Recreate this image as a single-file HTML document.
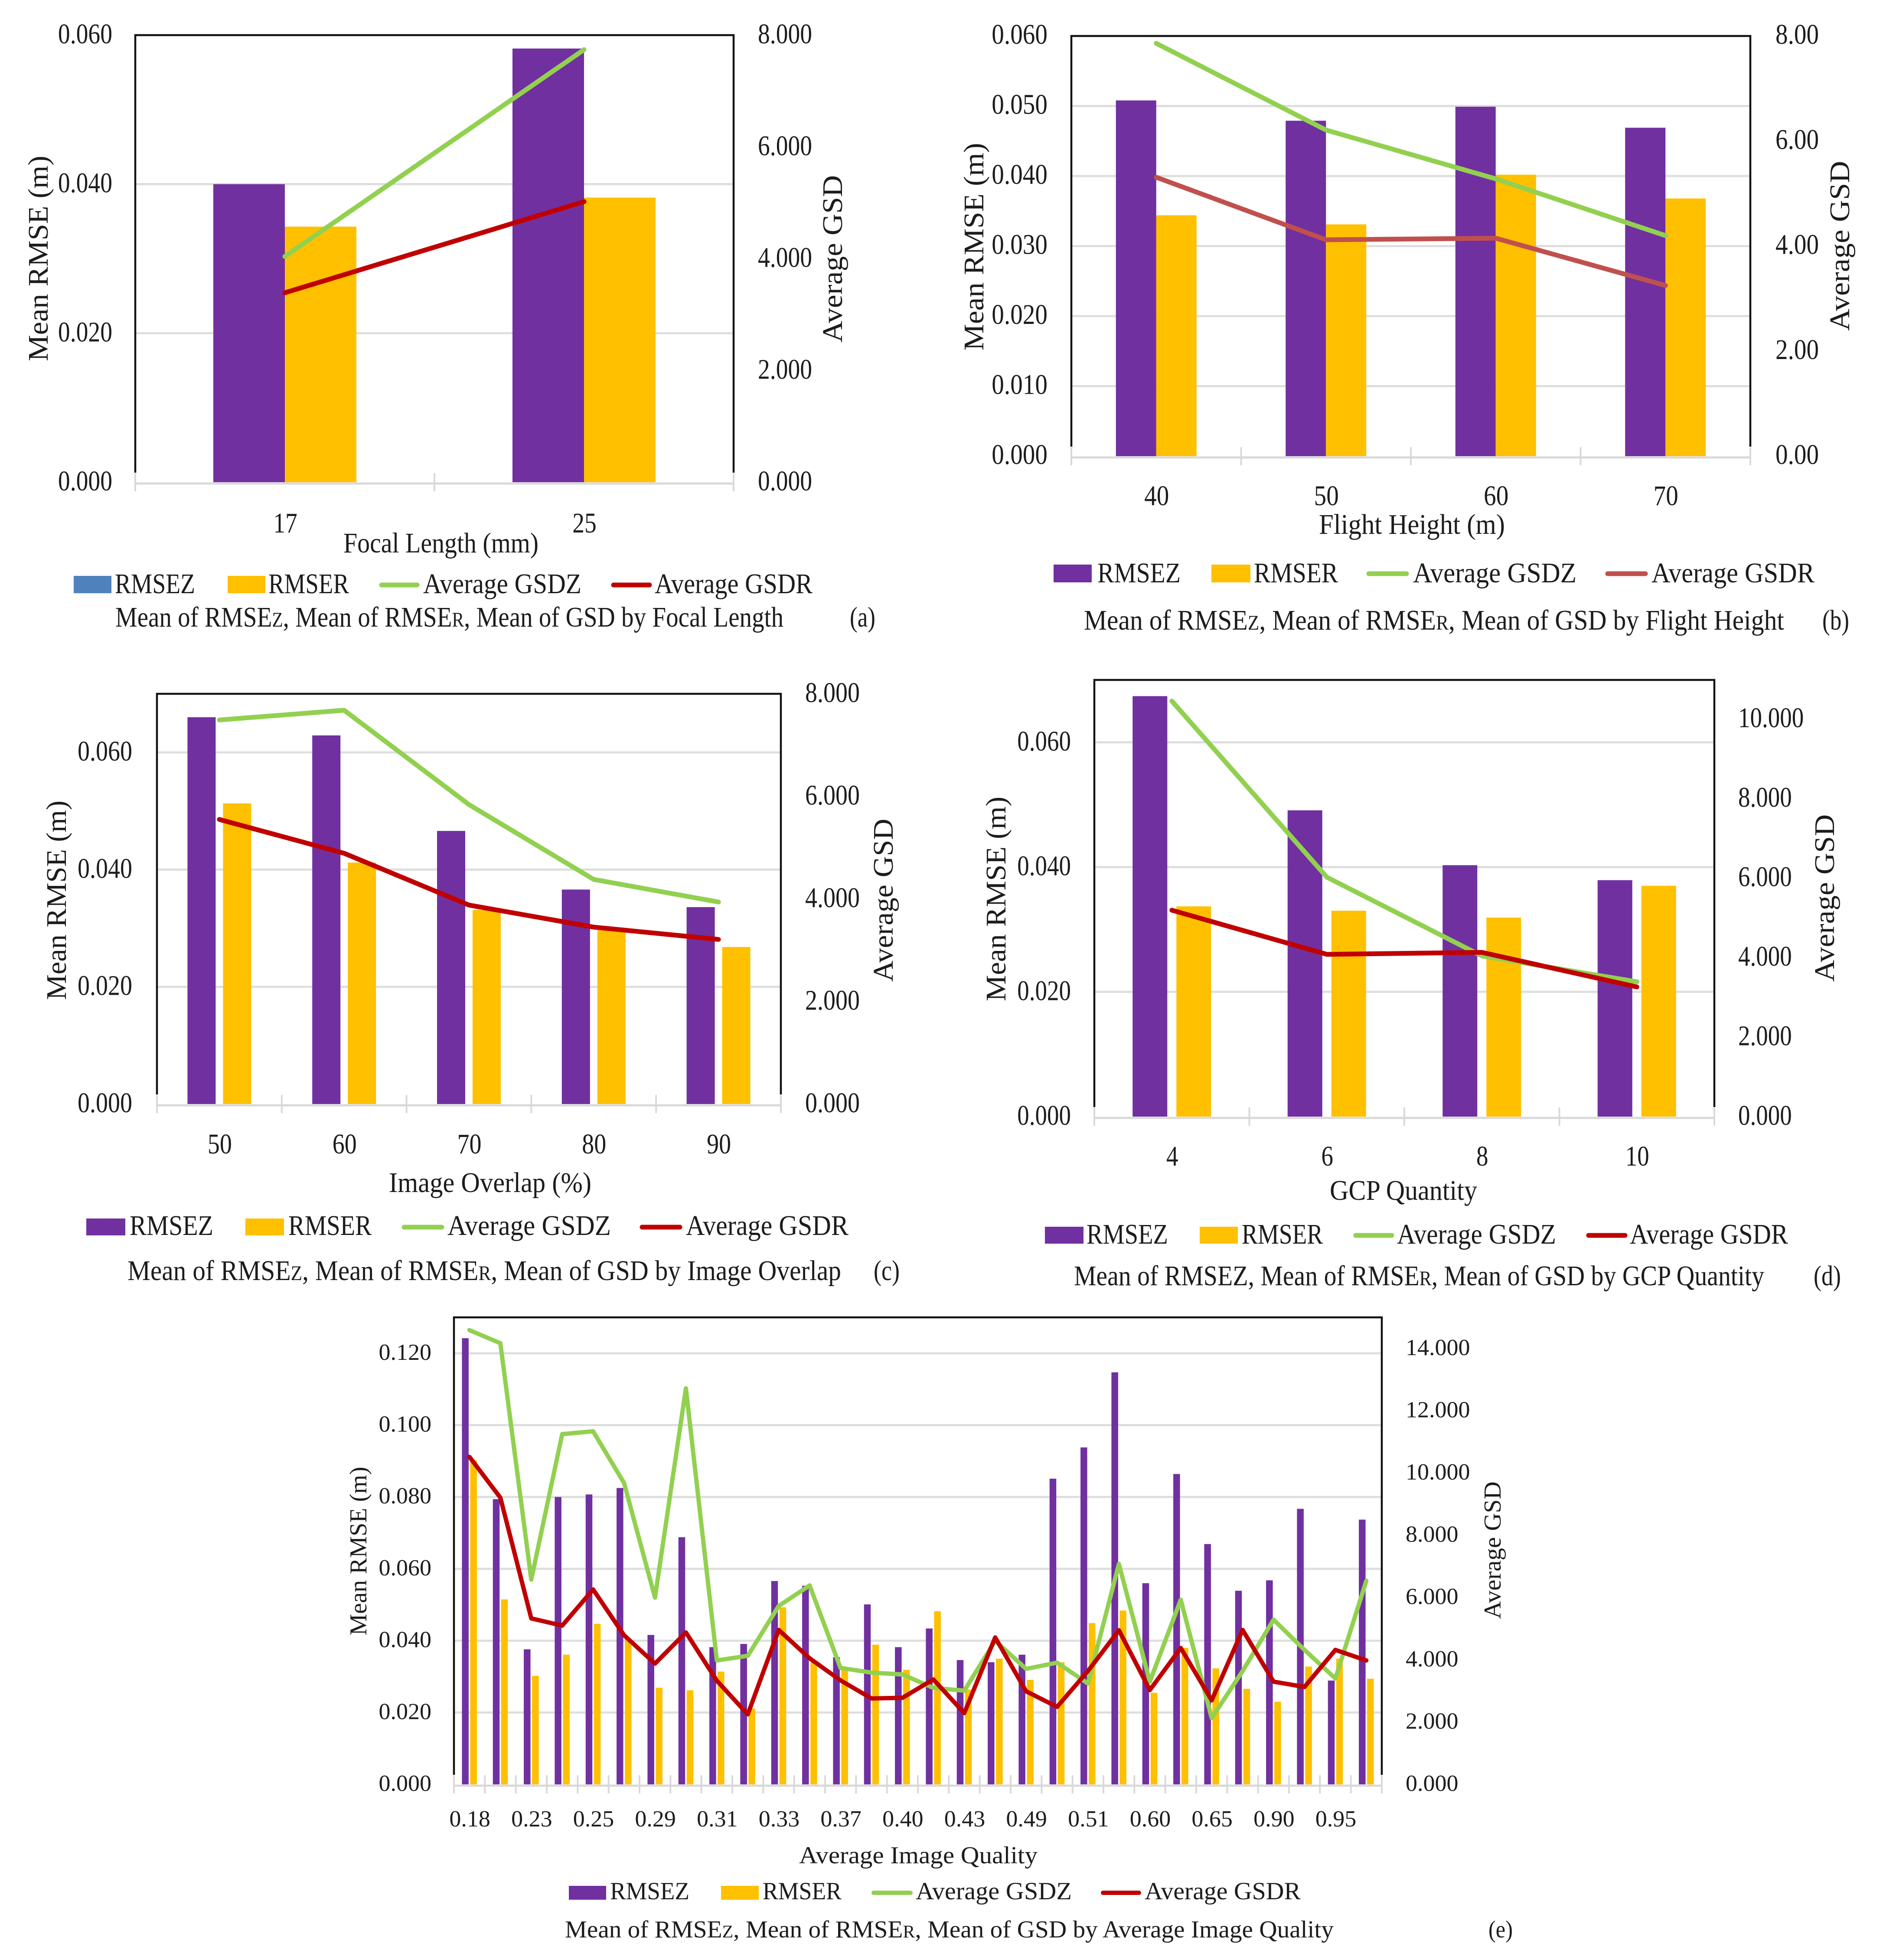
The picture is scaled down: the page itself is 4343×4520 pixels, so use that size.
<!DOCTYPE html>
<html lang="en">
<head>
<meta charset="utf-8">
<title>Mean RMSE and GSD charts</title>
<style>
html,body{margin:0;padding:0;background:#fff;}
svg{display:block;}
text{font-family:"Liberation Serif",serif;fill:#1c1c1c;}
.leg{font-size:66px;}
.cap{font-size:66px;}
.axt{font-size:66px;}
.e .leg{font-size:57px;}
.e .cap{font-size:56px;}
.e .axt{font-size:56px;}
</style>
</head>
<body>
<svg id="figure" xmlns="http://www.w3.org/2000/svg" width="4343" height="4520" viewBox="0 0 4343 4520">
<rect width="4343" height="4520" fill="#fff"/>

<g id="panel-a">
<g id="marks-a"></g>
<text class="axt" transform="translate(110 596) rotate(-90)" text-anchor="middle" textLength="474" lengthAdjust="spacingAndGlyphs">Mean RMSE (m)</text>
<text class="axt" transform="translate(1942 597) rotate(-90)" text-anchor="middle" textLength="386" lengthAdjust="spacingAndGlyphs">Average GSD</text>
<text class="axt" x="792" y="1274" textLength="450" lengthAdjust="spacingAndGlyphs">Focal Length (mm)</text>
<rect x="170" y="1328" width="87" height="40" fill="#4f81bd"/>
<text class="leg" x="265" y="1368" textLength="185" lengthAdjust="spacingAndGlyphs">RMSEZ</text>
<rect x="525" y="1328" width="87" height="40" fill="#ffc000"/>
<text class="leg" x="619" y="1368" textLength="186" lengthAdjust="spacingAndGlyphs">RMSER</text>
<line x1="880" x2="962" y1="1349" y2="1349" stroke="#92d050" stroke-width="11" stroke-linecap="round"/>
<text class="leg" x="976" y="1368" textLength="365" lengthAdjust="spacingAndGlyphs">Average GSDZ</text>
<line x1="1415" x2="1498" y1="1349" y2="1349" stroke="#c00000" stroke-width="11" stroke-linecap="round"/>
<text class="leg" x="1510" y="1368" textLength="364" lengthAdjust="spacingAndGlyphs">Average GSDR</text>
<text class="cap" x="266" y="1445" textLength="1541" lengthAdjust="spacingAndGlyphs">Mean of RMSE<tspan font-size="48">Z</tspan>, Mean of RMSE<tspan font-size="48">R</tspan>, Mean of GSD by Focal Length</text>
<text class="cap" x="1960" y="1445" textLength="59" lengthAdjust="spacingAndGlyphs">(a)</text>
</g>

<g id="panel-b">
<g id="marks-b"></g>
<text class="axt" transform="translate(2268 569) rotate(-90)" text-anchor="middle" textLength="479" lengthAdjust="spacingAndGlyphs">Mean RMSE (m)</text>
<text class="axt" transform="translate(4265 567) rotate(-90)" text-anchor="middle" textLength="392" lengthAdjust="spacingAndGlyphs">Average GSD</text>
<text class="axt" x="3042" y="1231" textLength="429" lengthAdjust="spacingAndGlyphs">Flight Height (m)</text>
<rect x="2430" y="1302" width="88" height="41" fill="#7030a0"/>
<text class="leg" x="2531" y="1343" textLength="192" lengthAdjust="spacingAndGlyphs">RMSEZ</text>
<rect x="2794" y="1302" width="90" height="41" fill="#ffc000"/>
<text class="leg" x="2892" y="1343" textLength="194" lengthAdjust="spacingAndGlyphs">RMSER</text>
<line x1="3157" x2="3244" y1="1323" y2="1323" stroke="#92d050" stroke-width="11" stroke-linecap="round"/>
<text class="leg" x="3259" y="1343" textLength="377" lengthAdjust="spacingAndGlyphs">Average GSDZ</text>
<line x1="3708" x2="3795" y1="1323" y2="1323" stroke="#c0504d" stroke-width="11" stroke-linecap="round"/>
<text class="leg" x="3809" y="1343" textLength="376" lengthAdjust="spacingAndGlyphs">Average GSDR</text>
<text class="cap" x="2500" y="1452" textLength="1615" lengthAdjust="spacingAndGlyphs">Mean of RMSE<tspan font-size="48">Z</tspan>, Mean of RMSE<tspan font-size="48">R</tspan>, Mean of GSD by Flight Height</text>
<text class="cap" x="4203" y="1452" textLength="62" lengthAdjust="spacingAndGlyphs">(b)</text>
</g>

<g id="panel-c">
<g id="marks-c"></g>
<text class="axt" transform="translate(152 2076) rotate(-90)" text-anchor="middle" textLength="460" lengthAdjust="spacingAndGlyphs">Mean RMSE (m)</text>
<text class="axt" transform="translate(2059 2076) rotate(-90)" text-anchor="middle" textLength="376" lengthAdjust="spacingAndGlyphs">Average GSD</text>
<text class="axt" x="897" y="2749" textLength="467" lengthAdjust="spacingAndGlyphs">Image Overlap (%)</text>
<rect x="199" y="2810" width="90" height="39" fill="#7030a0"/>
<text class="leg" x="299" y="2848" textLength="193" lengthAdjust="spacingAndGlyphs">RMSEZ</text>
<rect x="566" y="2810" width="89" height="39" fill="#ffc000"/>
<text class="leg" x="665" y="2848" textLength="192" lengthAdjust="spacingAndGlyphs">RMSER</text>
<line x1="932" x2="1019" y1="2830" y2="2830" stroke="#92d050" stroke-width="11" stroke-linecap="round"/>
<text class="leg" x="1032" y="2848" textLength="377" lengthAdjust="spacingAndGlyphs">Average GSDZ</text>
<line x1="1481" x2="1568" y1="2830" y2="2830" stroke="#c00000" stroke-width="11" stroke-linecap="round"/>
<text class="leg" x="1582" y="2848" textLength="375" lengthAdjust="spacingAndGlyphs">Average GSDR</text>
<text class="cap" x="294" y="2952" textLength="1646" lengthAdjust="spacingAndGlyphs">Mean of RMSE<tspan font-size="48">Z</tspan>, Mean of RMSE<tspan font-size="48">R</tspan>, Mean of GSD by Image Overlap</text>
<text class="cap" x="2015" y="2952" textLength="60" lengthAdjust="spacingAndGlyphs">(c)</text>
</g>

<g id="panel-d">
<g id="marks-d"></g>
<text class="axt" transform="translate(2319 2073) rotate(-90)" text-anchor="middle" textLength="472" lengthAdjust="spacingAndGlyphs">Mean RMSE (m)</text>
<text class="axt" transform="translate(4230 2071) rotate(-90)" text-anchor="middle" textLength="386" lengthAdjust="spacingAndGlyphs">Average GSD</text>
<text class="axt" x="3067" y="2767" textLength="340" lengthAdjust="spacingAndGlyphs">GCP Quantity</text>
<rect x="2410" y="2829" width="89" height="39" fill="#7030a0"/>
<text class="leg" x="2506" y="2868" textLength="188" lengthAdjust="spacingAndGlyphs">RMSEZ</text>
<rect x="2767" y="2829" width="88" height="39" fill="#ffc000"/>
<text class="leg" x="2864" y="2868" textLength="187" lengthAdjust="spacingAndGlyphs">RMSER</text>
<line x1="3127" x2="3210" y1="2849" y2="2849" stroke="#92d050" stroke-width="11" stroke-linecap="round"/>
<text class="leg" x="3222" y="2868" textLength="367" lengthAdjust="spacingAndGlyphs">Average GSDZ</text>
<line x1="3664" x2="3748" y1="2849" y2="2849" stroke="#c00000" stroke-width="11" stroke-linecap="round"/>
<text class="leg" x="3759" y="2868" textLength="365" lengthAdjust="spacingAndGlyphs">Average GSDR</text>
<text class="cap" x="2477" y="2964" textLength="1592" lengthAdjust="spacingAndGlyphs">Mean of RMSEZ, Mean of RMSE<tspan font-size="48">R</tspan>, Mean of GSD by GCP Quantity</text>
<text class="cap" x="4183" y="2964" textLength="63" lengthAdjust="spacingAndGlyphs">(d)</text>
</g>

<g id="panel-e" class="e">
<g id="marks-e"></g>
<text class="axt" transform="translate(845 3577) rotate(-90)" text-anchor="middle" textLength="389" lengthAdjust="spacingAndGlyphs">Mean RMSE (m)</text>
<text class="axt" transform="translate(3461 3575) rotate(-90)" text-anchor="middle" textLength="317" lengthAdjust="spacingAndGlyphs">Average GSD</text>
<text class="axt" x="1843" y="4297" textLength="550" lengthAdjust="spacingAndGlyphs">Average Image Quality</text>
<rect x="1312" y="4349" width="86" height="32" fill="#7030a0"/>
<text class="leg" x="1407" y="4380" textLength="183" lengthAdjust="spacingAndGlyphs">RMSEZ</text>
<rect x="1663" y="4349" width="87" height="32" fill="#ffc000"/>
<text class="leg" x="1759" y="4380" textLength="182" lengthAdjust="spacingAndGlyphs">RMSER</text>
<line x1="2015" x2="2100" y1="4365" y2="4365" stroke="#92d050" stroke-width="10" stroke-linecap="round"/>
<text class="leg" x="2112" y="4380" textLength="360" lengthAdjust="spacingAndGlyphs">Average GSDZ</text>
<line x1="2544" x2="2627" y1="4365" y2="4365" stroke="#c00000" stroke-width="10" stroke-linecap="round"/>
<text class="leg" x="2640" y="4380" textLength="360" lengthAdjust="spacingAndGlyphs">Average GSDR</text>
<text class="cap" x="1303" y="4468" textLength="1773" lengthAdjust="spacingAndGlyphs">Mean of RMSE<tspan font-size="41">Z</tspan>, Mean of RMSE<tspan font-size="41">R</tspan>, Mean of GSD by Average Image Quality</text>
<text class="cap" x="3433" y="4468" textLength="56" lengthAdjust="spacingAndGlyphs">(e)</text>
</g>
</svg>

<script>
// Panel (a) data
const categoriesA = ['17', '25'];
const rmsezA = [0.0400, 0.0582];
const rmserA = [0.0343, 0.0382];
const gsdzA = [4.04, 7.74];
const gsdrA = [3.39, 5.02];
const leftTicksA = ['0.000', '0.020', '0.040', '0.060'];
const rightTicksA = ['0.000', '2.000', '4.000', '6.000', '8.000'];

// Panel (b) data
const categoriesB = ['40', '50', '60', '70'];
const rmsezB = [0.0508, 0.0479, 0.0499, 0.0469];
const rmserB = [0.0344, 0.0331, 0.0402, 0.0368];
const gsdzB = [7.86, 6.21, 5.28, 4.20];
const gsdrB = [5.31, 4.12, 4.15, 3.25];
const leftTicksB = ['0.000', '0.010', '0.020', '0.030', '0.040', '0.050', '0.060'];
const rightTicksB = ['0.00', '2.00', '4.00', '6.00', '8.00'];

// Panel (c) data
const categoriesC = ['50', '60', '70', '80', '90'];
const rmsezC = [0.0660, 0.0629, 0.0466, 0.0366, 0.0336];
const rmserC = [0.0513, 0.0412, 0.0331, 0.0297, 0.0268];
const gsdzC = [7.49, 7.68, 5.84, 4.38, 3.94];
const gsdrC = [5.55, 4.89, 3.88, 3.45, 3.21];
const leftTicksC = ['0.000', '0.020', '0.040', '0.060'];
const rightTicksC = ['0.000', '2.000', '4.000', '6.000', '8.000'];

// Panel (d) data
const categoriesD = ['4', '6', '8', '10'];
const rmsezD = [0.0674, 0.0491, 0.0403, 0.0379];
const rmserD = [0.0337, 0.0330, 0.0319, 0.0370];
const gsdzD = [10.45, 6.02, 4.04, 3.39];
const gsdrD = [5.19, 4.08, 4.13, 3.26];
const leftTicksD = ['0.000', '0.020', '0.040', '0.060'];
const rightTicksD = ['0.000', '2.000', '4.000', '6.000', '8.000', '10.000'];

// Panel (e) data
const categoriesE = ['0.18', '', '0.23', '', '0.25', '', '0.29', '', '0.31', '', '0.33', '', '0.37', '', '0.40', '', '0.43', '', '0.49', '', '0.51', '', '0.60', '', '0.65', '', '0.90', '', '0.95', ''];
const rmsezE = [0.1242, 0.0794, 0.0376, 0.0800, 0.0807, 0.0825, 0.0416, 0.0688, 0.0382, 0.0391, 0.0566, 0.0553, 0.0354, 0.0501, 0.0382, 0.0434, 0.0346, 0.0340, 0.0361, 0.0851, 0.0938, 0.1147, 0.0560, 0.0864, 0.0669, 0.0539, 0.0568, 0.0767, 0.0289, 0.0737];
const rmserE = [0.0902, 0.0515, 0.0302, 0.0361, 0.0447, 0.0404, 0.0269, 0.0262, 0.0314, 0.0211, 0.0493, 0.0340, 0.0319, 0.0389, 0.0319, 0.0482, 0.0264, 0.0350, 0.0291, 0.0340, 0.0449, 0.0484, 0.0255, 0.0380, 0.0323, 0.0266, 0.0230, 0.0328, 0.0350, 0.0294];
const gsdzE = [14.59, 14.17, 6.58, 11.25, 11.34, 9.68, 6.00, 12.72, 3.98, 4.13, 5.73, 6.39, 3.74, 3.59, 3.53, 3.10, 3.01, 4.61, 3.71, 3.91, 3.24, 7.08, 3.30, 5.93, 2.13, 3.64, 5.29, 4.32, 3.40, 6.54];
const gsdrE = [10.52, 9.21, 5.33, 5.10, 6.26, 4.79, 3.88, 4.88, 3.33, 2.25, 4.96, 4.05, 3.34, 2.76, 2.78, 3.37, 2.29, 4.72, 2.99, 2.49, 3.64, 4.95, 3.03, 4.38, 2.70, 4.96, 3.30, 3.13, 4.32, 3.98];
const leftTicksE = ['0.000', '0.020', '0.040', '0.060', '0.080', '0.100', '0.120'];
const rightTicksE = ['0.000', '2.000', '4.000', '6.000', '8.000', '10.000', '12.000', '14.000'];

const SVGNS = 'http://www.w3.org/2000/svg';

function make(tag, parent) {
  const el = document.createElementNS(SVGNS, tag);
  parent.appendChild(el);
  return el;
}

function setAll(el, attrs) {
  for (const k in attrs) el.setAttribute(k, attrs[k]);
}

function labelWidth(s, digit) {
  let w = 0;
  for (const ch of s) w += ch === '.' ? digit * 0.5 : digit;
  return w;
}

function drawTickLabel(parent, name, s, x, y, anchor, p) {
  const t = make('text', parent);
  
  
  setAll(t, {
    x: x, y: y, 'text-anchor': anchor, 'font-size': p.fs,
    textLength: labelWidth(s, p.digit), lengthAdjust: 'spacingAndGlyphs'
  });
  t.textContent = s;
}

function drawPanel(id, p, cats, z, r, gz, gr, leftTicks, rightTicks) {
  const g = document.getElementById('marks-' + id);
  const yL = v => p.bottom - (v / p.maxL) * (p.bottom - p.top);
  const yR = v => p.bottom - (v / p.maxR) * (p.bottom - p.top);
  const step = (p.right - p.left) / cats.length;
  const cx = i => p.left + step * (i + 0.5);

  leftTicks.forEach(s => {
    const v = Number(s);
    if (v > 0) {
      const l = make('line', g);
      
      
      setAll(l, { x1: p.left, x2: p.right, y1: yL(v), y2: yL(v), stroke: '#dedede', 'stroke-width': 5 });
    }
    drawTickLabel(g, 'y-tick-label-' + id, s, p.leftLabelX, yL(v) + p.labelDy, 'end', p);
  });
  rightTicks.forEach(s => {
    drawTickLabel(g, 'y2-tick-label-' + id, s, p.rightLabelX, yR(Number(s)) + p.labelDy, 'start', p);
  });

  const axis = make('line', g);
  
  
  setAll(axis, { x1: p.left, x2: p.right, y1: p.bottom + 3, y2: p.bottom + 3, stroke: '#d9d9d9', 'stroke-width': 5 });

  for (let i = 0; i <= cats.length; i++) {
    const tk = make('line', g);
    
    
    const x = p.left + step * i;
    setAll(tk, { x1: x, x2: x, y1: p.bottom - 21, y2: p.bottom + 21, stroke: '#d9d9d9', 'stroke-width': 4 });
  }

  const frame = make('path', g);
  
  
  setAll(frame, {
    d: 'M' + p.left + ' ' + (p.bottom - 22) + 'V' + p.top + 'H' + p.right + 'V' + (p.bottom - 22),
    fill: 'none', stroke: '#111', 'stroke-width': 4.5
  });

  cats.forEach((c, i) => {
    const b1 = make('rect', g);
    
    
    setAll(b1, { x: cx(i) - p.gap / 2 - p.barW, y: yL(z[i]), width: p.barW, height: p.bottom - yL(z[i]), fill: '#7030a0' });
    const b2 = make('rect', g);
    
    
    setAll(b2, { x: cx(i) + p.gap / 2, y: yL(r[i]), width: p.barW, height: p.bottom - yL(r[i]), fill: '#ffc000' });
    if (c !== '') {
      const t = make('text', g);
      
      
      setAll(t, {
        x: cx(i) + 1, y: p.catY, 'text-anchor': 'middle', 'font-size': p.fs,
        textLength: labelWidth(c, p.digit), lengthAdjust: 'spacingAndGlyphs'
      });
      t.textContent = c;
    }
  });

  const pts = vals => vals.map((v, i) => cx(i) + ',' + yR(v)).join(' ');
  const lz = make('polyline', g);
  
  
  setAll(lz, { points: pts(gz), fill: 'none', stroke: '#92d050', 'stroke-width': p.lw, 'stroke-linecap': 'round', 'stroke-linejoin': 'round' });
  const lr = make('polyline', g);
  
  
  setAll(lr, { points: pts(gr), fill: 'none', stroke: p.redColor, 'stroke-width': p.lw, 'stroke-linecap': 'round', 'stroke-linejoin': 'round' });
}

drawPanel('a', { left: 312, right: 1692, top: 81, bottom: 1112, maxL: 0.06, maxR: 8, barW: 165, gap: 0, leftLabelX: 259, rightLabelX: 1748, labelDy: 19, catY: 1228, fs: 66, digit: 27.8, lw: 11, redColor: '#c00000' },
  categoriesA, rmsezA, rmserA, gsdzA, gsdrA, leftTicksA, rightTicksA);
drawPanel('b', { left: 2471, right: 4037, top: 83, bottom: 1052, maxL: 0.06, maxR: 8, barW: 93, gap: 0, leftLabelX: 2416, rightLabelX: 4095, labelDy: 18, catY: 1165, fs: 66, digit: 28.6, lw: 11, redColor: '#c0504d' },
  categoriesB, rmsezB, rmserB, gsdzB, gsdrB, leftTicksB, rightTicksB);
drawPanel('c', { left: 362, right: 1801, top: 1600, bottom: 2546, maxL: 0.07, maxR: 8, barW: 65, gap: 17, leftLabelX: 305, rightLabelX: 1857, labelDy: 19, catY: 2660, fs: 66, digit: 28, lw: 11, redColor: '#c00000' },
  categoriesC, rmsezC, rmserC, gsdzC, gsdrC, leftTicksC, rightTicksC);
drawPanel('d', { left: 2524, right: 3954, top: 1568, bottom: 2575, maxL: 0.07, maxR: 10.98, barW: 80, gap: 21, leftLabelX: 2470, rightLabelX: 4009, labelDy: 19, catY: 2688, fs: 66, digit: 27.5, lw: 11, redColor: '#c00000' },
  categoriesD, rmsezD, rmserD, gsdzD, gsdrD, leftTicksD, rightTicksD);
drawPanel('e', { left: 1047, right: 3187, top: 3038, bottom: 4115, maxL: 0.13, maxR: 15, barW: 15.5, gap: 3.5, leftLabelX: 995, rightLabelX: 3242, labelDy: 15, catY: 4212, fs: 53, digit: 27, lw: 10, redColor: '#c00000' },
  categoriesE, rmsezE, rmserE, gsdzE, gsdrE, leftTicksE, rightTicksE);
</script>
</body>
</html>
